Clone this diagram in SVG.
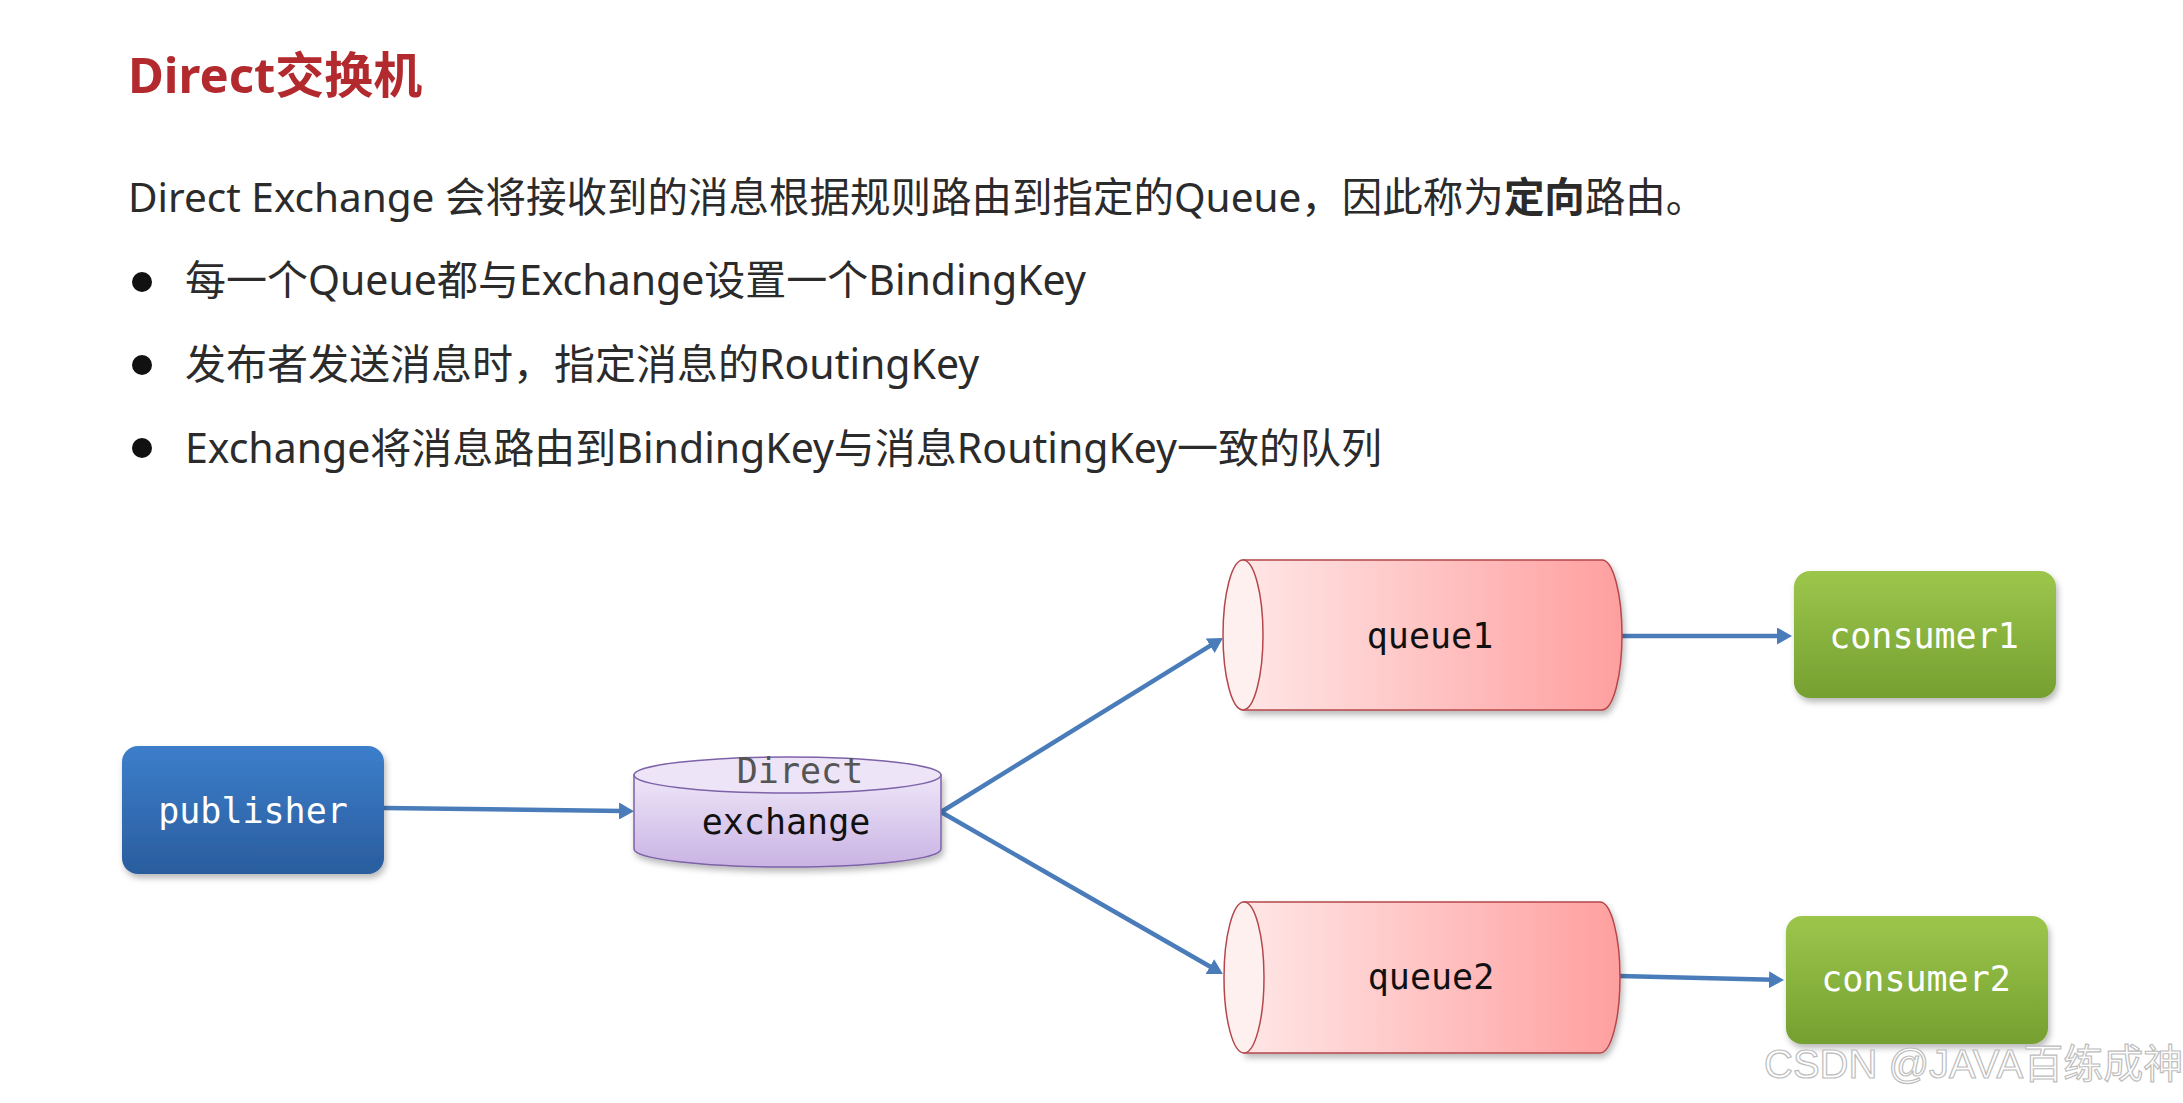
<svg xmlns="http://www.w3.org/2000/svg" width="2183" height="1103" viewBox="0 0 2183 1103">
<style>
.title{font-family:"Noto Sans","Noto Sans CJK SC",sans-serif;font-weight:bold;font-size:49px;fill:#B22A2E}
.body{font-family:"Noto Sans","Noto Sans CJK SC",sans-serif;font-size:40.5px;fill:#2b2b2b}
.bl{font-size:41px}
.mono{font-family:"DejaVu Sans Mono","Liberation Mono",monospace;font-size:35px;text-anchor:middle}
.white{fill:#ffffff}
.dark{fill:#111111}
.conn{stroke:#4A7CBA;stroke-width:4.5;fill:none}
.qstroke{stroke:#B5474A;stroke-width:1.5}
.wm{font-family:"Liberation Sans","Noto Sans CJK SC",sans-serif;font-size:40px;fill:#ffffff;stroke:#bdbdbd;stroke-width:1.2}
</style>
<defs>
<linearGradient id="gPub" x1="0" y1="0" x2="0" y2="1"><stop offset="0" stop-color="#3C7ECB"/><stop offset="1" stop-color="#2A5D9E"/></linearGradient>
<linearGradient id="gCon" x1="0" y1="0" x2="0" y2="1"><stop offset="0" stop-color="#9CC64B"/><stop offset="1" stop-color="#75A031"/></linearGradient>
<linearGradient id="gEx" x1="0" y1="0" x2="0" y2="1"><stop offset="0" stop-color="#EEE6F8"/><stop offset="1" stop-color="#C9B3E4"/></linearGradient>
<linearGradient id="gQ" x1="0" y1="0" x2="1" y2="0"><stop offset="0" stop-color="#FFE6E6"/><stop offset="1" stop-color="#FF9F9F"/></linearGradient>
<filter id="sh" x="-10%" y="-10%" width="130%" height="140%"><feDropShadow dx="2" dy="4" stdDeviation="3" flood-color="#000" flood-opacity="0.28"/></filter>
<marker id="arr" viewBox="0 0 15 17" refX="4" refY="8.5" markerWidth="15" markerHeight="17" markerUnits="userSpaceOnUse" orient="auto"><path d="M0,0 L15,8.5 L0,17 z" fill="#4A7CBA"/></marker>
</defs>
<rect x="0" y="0" width="2183" height="1103" fill="#ffffff"/>

<g id="texts">
<text class="title" x="128" y="93">Direct交换机</text>
<text class="body" x="128" y="212">Direct Exchange 会将接收到的消息根据规则路由到指定的Queue，因此称为<tspan font-weight="bold">定向</tspan>路由。</text>
<circle cx="142" cy="282" r="10" fill="#111"/>
<text class="body bl" x="185" y="295">每一个Queue都与Exchange设置一个BindingKey</text>
<circle cx="142" cy="365" r="10" fill="#111"/>
<text class="body bl" x="185" y="379">发布者发送消息时，指定消息的RoutingKey</text>
<circle cx="142" cy="448" r="10" fill="#111"/>
<text class="body bl" x="185" y="463">Exchange将消息路由到BindingKey与消息RoutingKey一致的队列</text>
</g>

<g id="connectors">
<path class="conn" d="M384,808 L623,811" marker-end="url(#arr)"/>
<path class="conn" d="M941,812 L1213.6,643.7" marker-end="url(#arr)"/>
<path class="conn" d="M941,812 L1213.4,968.5" marker-end="url(#arr)"/>
<path class="conn" d="M1622,636 L1781,636" marker-end="url(#arr)"/>
<path class="conn" d="M1619,976 L1773,979.8" marker-end="url(#arr)"/>
</g>

<g id="publisher">
<rect x="122" y="746" width="262" height="128" rx="16" fill="url(#gPub)" filter="url(#sh)"/>
<text class="mono white" x="253" y="823">publisher</text>
</g>

<g id="exchange">
<path d="M634,775 L634,849 A153.5,18 0 0 0 941,849 L941,775 Z" fill="url(#gEx)" stroke="#7D62A8" stroke-width="1.5" filter="url(#sh)"/>
<ellipse cx="787.5" cy="775" rx="153.5" ry="18" fill="#EDE4F7" stroke="#7D62A8" stroke-width="1.5"/>
<text class="mono" x="800" y="783" font-size="27" fill="#555">Direct</text>
<text class="mono dark" x="786" y="834">exchange</text>
</g>

<g id="queue1">
<path class="qstroke" d="M1243,560 L1602,560 A20,75 0 0 1 1602,710 L1243,710 Z" fill="url(#gQ)" filter="url(#sh)"/>
<ellipse class="qstroke" cx="1243" cy="635" rx="20" ry="75" fill="#FFF0F0"/>
<text class="mono dark" x="1430" y="648">queue1</text>
</g>

<g id="queue2">
<path class="qstroke" d="M1244,902 L1600,902 A20,75.5 0 0 1 1600,1053 L1244,1053 Z" fill="url(#gQ)" filter="url(#sh)"/>
<ellipse class="qstroke" cx="1244" cy="977.5" rx="20" ry="75.5" fill="#FFF0F0"/>
<text class="mono dark" x="1431" y="989">queue2</text>
</g>

<g id="consumer1">
<rect x="1794" y="571" width="262" height="127" rx="16" fill="url(#gCon)" filter="url(#sh)"/>
<text class="mono white" x="1924" y="648">consumer1</text>
</g>

<g id="consumer2">
<rect x="1786" y="916" width="262" height="128" rx="16" fill="url(#gCon)" filter="url(#sh)"/>
<text class="mono white" x="1916" y="991">consumer2</text>
</g>

<text class="wm" x="1764" y="1078">CSDN @JAVA百练成神</text>
</svg>
